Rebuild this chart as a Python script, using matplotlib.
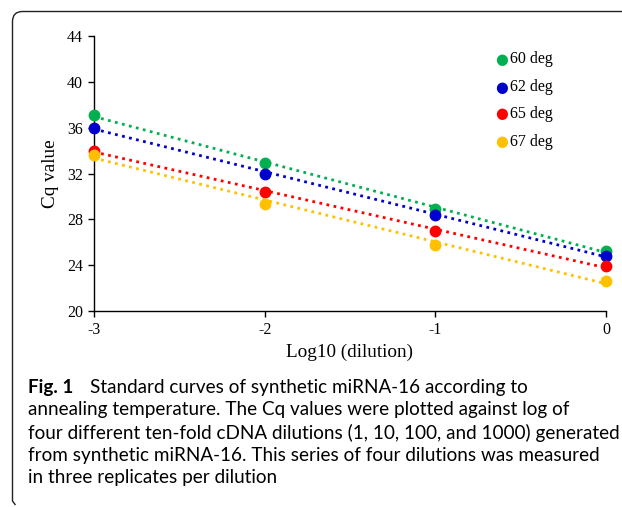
import numpy as np
import matplotlib
matplotlib.use("Agg")
import matplotlib.pyplot as plt
from matplotlib.path import Path
from matplotlib.patches import PathPatch
from matplotlib.transforms import IdentityTransform

x_vals = [-3, -2, -1, 0]
series_names = ["60 deg", "62 deg", "65 deg", "67 deg"]
cq_60 = [37.1, 32.9, 28.9, 25.25]
cq_62 = [36.0, 32.0, 28.4, 24.8]
cq_65 = [34.0, 30.4, 27.0, 23.9]
cq_67 = [33.65, 29.35, 25.8, 22.65]
colors = ["#00B050", "#0000CC", "#FF0000", "#FFC000"]
y_ticks = [20, 24, 28, 32, 36, 40, 44]
x_ticks = [-3, -2, -1, 0]

caption_lines = [
    "Standard curves of synthetic miRNA-16 according to",
    "annealing temperature. The Cq values were plotted against log of",
    "four different ten-fold cDNA dilutions (1, 10, 100, and 1000) generated",
    "from synthetic miRNA-16. This series of four dilutions was measured",
    "in three replicates per dilution",
]

W, H = 622, 507
fig = plt.figure(figsize=(W / 100, H / 100), dpi=100)
ax = fig.add_axes([94 / W, 1 - 311 / H, (606 - 94) / W, (311 - 36) / H])

serif = "Liberation Serif"
for ys, c, name in zip([cq_60, cq_62, cq_65, cq_67], colors, series_names):
    m, b = np.polyfit(x_vals, ys, 1)
    xx = np.array([x_vals[0], x_vals[-1]])
    ax.plot(xx, m * xx + b, linestyle=(0, (1, 1.6)), color=c, linewidth=2.0, clip_on=False)
    ax.plot(x_vals, ys, "o", color=c, markersize=7.5, clip_on=False, zorder=3)

ax.set_xlim(-3, 0)
ax.set_ylim(20, 44)
ax.set_xticks(x_ticks)
ax.set_xticklabels([str(t) for t in x_ticks])
ax.set_yticks(y_ticks)
ax.set_yticklabels([str(t) for t in y_ticks])
for s in ["top", "right"]:
    ax.spines[s].set_visible(False)
for s in ["left", "bottom"]:
    ax.spines[s].set_linewidth(1.0)
    ax.spines[s].set_color("black")
ax.tick_params(direction="out", length=4, width=1, labelsize=11.5, pad=4)
for lab in ax.get_xticklabels() + ax.get_yticklabels():
    lab.set_fontfamily(serif)
ax.set_xlabel("Log10 (dilution)", fontsize=13.8, family=serif, labelpad=4)
ax.set_ylabel("Cq value", fontsize=13.8, family=serif, labelpad=6)

# legend
leg_y = [59, 87, 114, 142]
for yy, c, name in zip(leg_y, colors, series_names):
    fig.text(502 / W, 1 - yy / H, "\u25CF", color=c, fontsize=10.5, ha="center", va="center",
             family="DejaVu Sans")
    fig.text(510 / W, 1 - yy / H, name, fontsize=11.5, family=serif, ha="left", va="center")

# frame with rounded top-left corner (pixel coordinates, origin bottom-left)
r = 10
x0, ytop = 12.5, H - 11.5
ybot = H - 503
verts = [(x0 + 3, ybot - 2), (x0, ybot + 2), (x0, ytop - r), (x0, ytop), (x0 + r, ytop), (W + 5, ytop)]
codes = [Path.MOVETO, Path.LINETO, Path.LINETO, Path.CURVE3, Path.CURVE3, Path.LINETO]
fig.patches.append(PathPatch(Path(verts, codes), transform=IdentityTransform(),
                             fill=False, edgecolor="#222222", linewidth=1.0))

# caption
cap_font = "Lato"
cap_size = 13.6
line_y = [387, 410, 432.5, 455, 478]
fig.text(28 / W, 1 - line_y[0] / H, "Fig. 1", fontsize=cap_size, family=cap_font,
         weight="bold", ha="left", va="center")
fig.text(90 / W, 1 - line_y[0] / H, caption_lines[0], fontsize=cap_size, family=cap_font,
         ha="left", va="center")
for yy, line in zip(line_y[1:], caption_lines[1:]):
    fig.text(28 / W, 1 - yy / H, line, fontsize=cap_size, family=cap_font, ha="left", va="center")

fig.savefig("out.png", dpi=100, facecolor="white")
